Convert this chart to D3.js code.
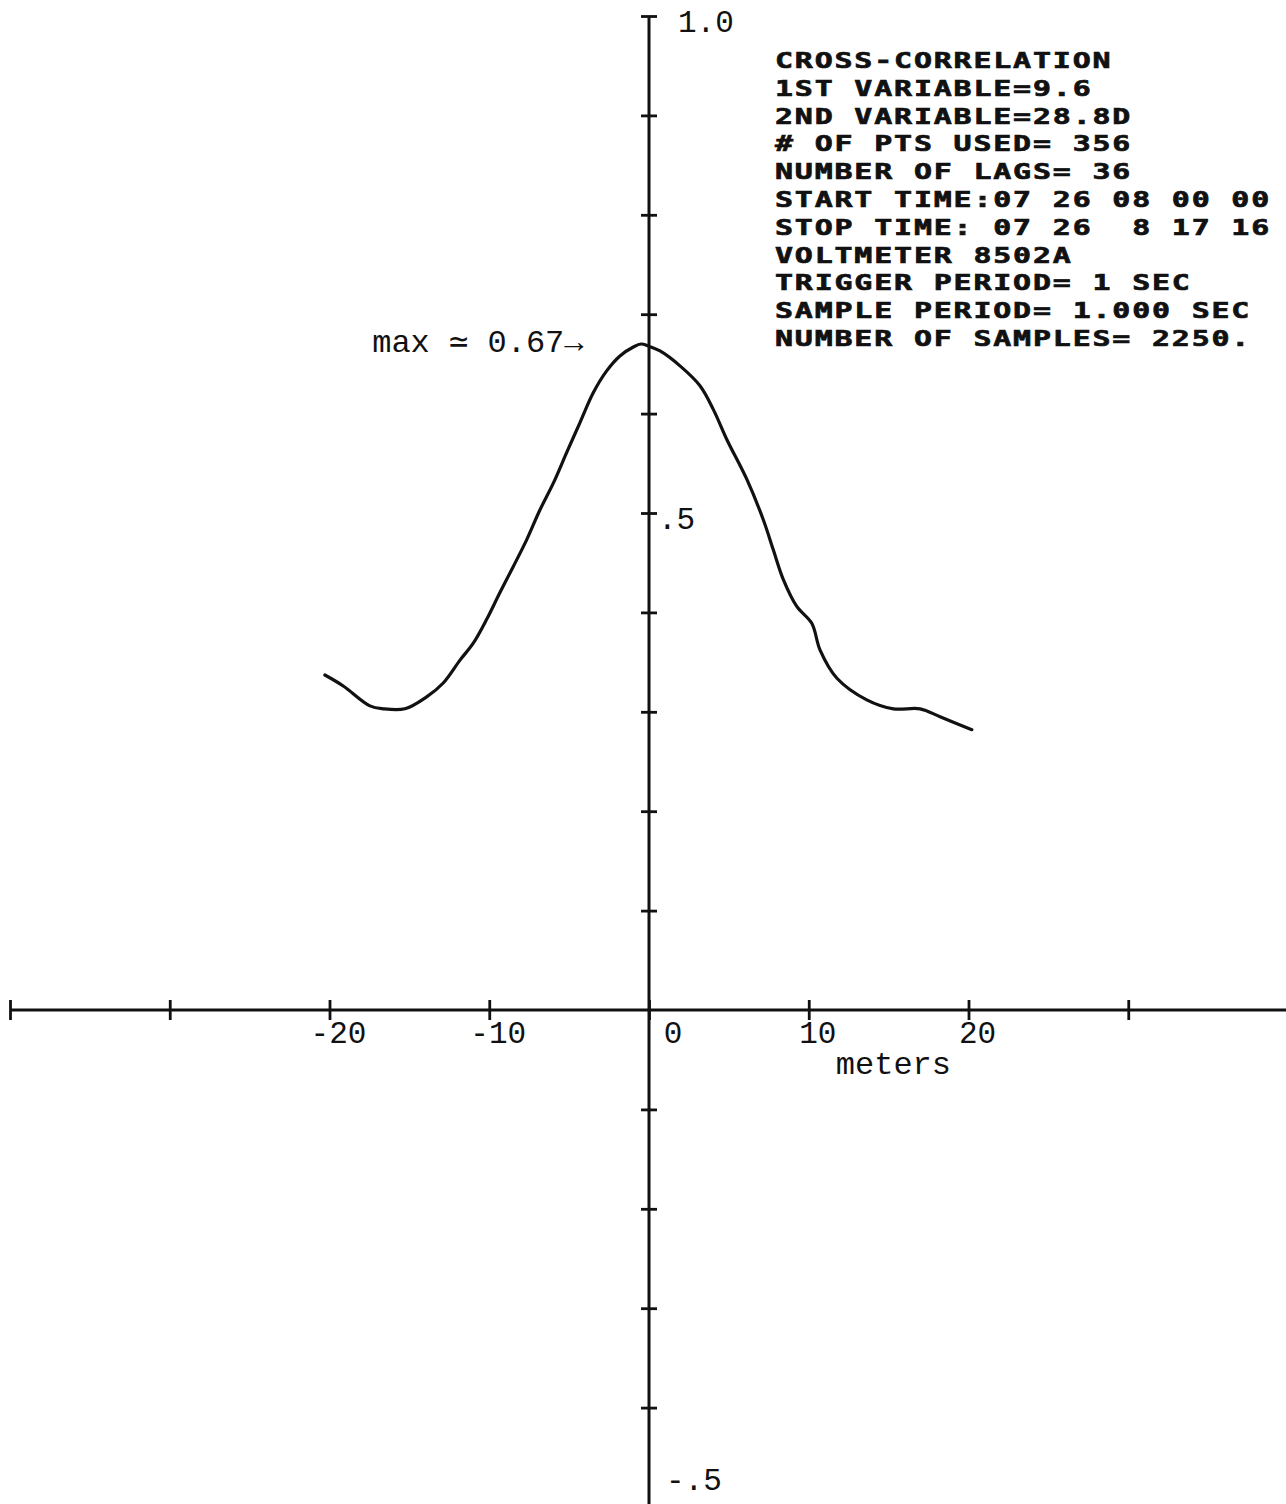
<!DOCTYPE html>
<html>
<head>
<meta charset="utf-8">
<script src="https://cdn.jsdelivr.net/npm/d3@7"></script>
<style>
  html, body { margin: 0; padding: 0; background: #fff; }
  svg { display: block; }
</style>
</head>
<body>
<svg id="chart" width="1286" height="1504"></svg>
<script>
// Cross-correlation coefficient against spatial lag (meters)
const lagMeters = [
  -20.29, -19.14, -17.47, -16.63, -15.28, -13.92, -12.88, -11.83, -11.00, -10.16,
  -9.33, -8.50, -7.66, -6.83, -5.99, -5.15, -4.32, -3.49, -2.65, -1.82,
  -0.98, -0.50, -0.04, 0.69, 1.94, 3.19, 4.03, 4.87, 6.12, 7.16,
  7.78, 8.41, 9.25, 10.19, 10.71, 11.75, 13.63, 15.30, 16.97, 18.22, 20.21
];
const correlation = [
  0.337, 0.326, 0.306, 0.303, 0.303, 0.315, 0.329, 0.352, 0.369, 0.393,
  0.420, 0.446, 0.473, 0.503, 0.530, 0.561, 0.591, 0.621, 0.643, 0.658,
  0.667, 0.670, 0.668, 0.663, 0.648, 0.628, 0.604, 0.574, 0.534, 0.493,
  0.463, 0.433, 0.406, 0.389, 0.362, 0.334, 0.312, 0.303, 0.303, 0.295, 0.282
];

// Axis ticks and their printed labels
const xTickValues = [-40, -30, -20, -10, 0, 10, 20, 30, 40];
const xTickLabels = [
  { v: -20, text: "-20" }, { v: -10, text: "-10" },
  { v: 0, text: "0" }, { v: 10, text: "10" }, { v: 20, text: "20" }
];
const yTickValues = [-0.4, -0.3, -0.2, -0.1, 0.1, 0.2, 0.3, 0.4, 0.5, 0.6, 0.7, 0.8, 0.9, 1.0];
const yTickLabels = [
  { v: 1.0, text: "1.0" }, { v: 0.5, text: ".5" }, { v: -0.5, text: "-.5" }
];
const xAxisTitle = "meters";
const peakNote = "max \u2243 0.67\u2192";
const peakValue = 0.67;

// Plotter header block
const headerLines = [
  "CROSS-CORRELATION",
  "1ST VARIABLE=9.6",
  "2ND VARIABLE=28.8D",
  "# OF PTS USED= 356",
  "NUMBER OF LAGS= 36",
  "START TIME:07 26 08 00 00",
  "STOP TIME: 07 26  8 17 16",
  "VOLTMETER 8502A",
  "TRIGGER PERIOD= 1 SEC",
  "SAMPLE PERIOD= 1.000 SEC",
  "NUMBER OF SAMPLES= 2250."
];

const svg = d3.select("#chart");
const x = d3.scaleLinear().domain([-40, 40]).range([10, 1288]);
const y = d3.scaleLinear().domain([-0.5, 1.0]).range([1507, 16]);

const typeFont = "'Liberation Mono', 'DejaVu Sans Mono', monospace";
const ink = "#111";

// Horizontal axis with ticks crossing the line
const xAxisG = svg.append("g").attr("transform", `translate(0,${y(0)})`);
xAxisG.append("line")
  .attr("x1", x(-40)).attr("x2", x(40))
  .attr("stroke", ink).attr("stroke-width", 2.8);
[d3.axisTop(x), d3.axisBottom(x)].forEach(ax => {
  const g = xAxisG.append("g")
    .call(ax.tickValues(xTickValues).tickSize(10).tickFormat(""));
  g.select(".domain").remove();
  g.selectAll(".tick line").attr("stroke", ink).attr("stroke-width", 2.8);
});

// Vertical axis with ticks crossing the line
const yAxisG = svg.append("g").attr("transform", `translate(${x(0)},0)`);
yAxisG.append("line")
  .attr("y1", y(1.0)).attr("y2", 1504)
  .attr("stroke", ink).attr("stroke-width", 3);
[d3.axisLeft(y), d3.axisRight(y)].forEach(ax => {
  const g = yAxisG.append("g")
    .call(ax.tickValues(yTickValues).tickSize(8).tickFormat(""));
  g.select(".domain").remove();
  g.selectAll(".tick line").attr("stroke", ink).attr("stroke-width", 2.8);
});

// Typed axis labels
const xNudge = v => (v === 0 ? 24 : 9);
svg.append("g").selectAll("text")
  .data(xTickLabels).join("text")
  .attr("x", d => x(d.v) + xNudge(d.v))
  .attr("y", y(0) + 33)
  .attr("text-anchor", "middle")
  .attr("font-family", typeFont).attr("font-size", 31).attr("fill", ink)
  .text(d => d.text);

svg.append("text")
  .attr("x", x(15.3)).attr("y", y(0) + 64)
  .attr("text-anchor", "middle")
  .attr("font-family", typeFont).attr("font-size", 32).attr("fill", ink)
  .text(xAxisTitle);

svg.append("g").selectAll("text")
  .data(yTickLabels).join("text")
  .attr("x", d => x(0) + (d.v === 1.0 ? 29 : d.v === 0.5 ? 9 : 17))
  .attr("y", d => d.v === -0.5 ? y(d.v) - 17 : y(d.v) + 16)
  .attr("font-family", typeFont).attr("font-size", 31).attr("fill", ink)
  .text(d => d.text);

// Correlation curve
const pts = lagMeters.map((m, i) => [m, correlation[i]]);
svg.append("path")
  .datum(pts)
  .attr("fill", "none")
  .attr("stroke", ink)
  .attr("stroke-width", 3.2)
  .attr("stroke-linecap", "round")
  .attr("stroke-linejoin", "round")
  .attr("d", d3.line()
    .x(d => x(d[0]))
    .y(d => y(d[1]))
    .curve(d3.curveCatmullRom.alpha(0.5)));

// Peak annotation
svg.append("text")
  .attr("x", x(-4.1)).attr("y", y(peakValue) + 8)
  .attr("text-anchor", "end")
  .attr("font-family", typeFont).attr("font-size", 32).attr("fill", ink)
  .text(peakNote);

// Header block in blocky plotter lettering
const header = svg.append("g")
  .attr("transform", "translate(775,0) scale(1.36,1)");
header.selectAll("text")
  .data(headerLines).join("text")
  .attr("x", 0)
  .attr("y", (d, i) => 68 + i * 27.8)
  .attr("font-family", "'DejaVu Sans Mono', monospace")
  .attr("font-weight", "bold")
  .attr("font-size", 22)
  .attr("letter-spacing", 1.35)
  .attr("fill", ink)
  .attr("stroke", ink)
  .attr("stroke-width", 0.7)
  .style("white-space", "pre")
  .attr("xml:space", "preserve")
  .text(d => d);
</script>
</body>
</html>
